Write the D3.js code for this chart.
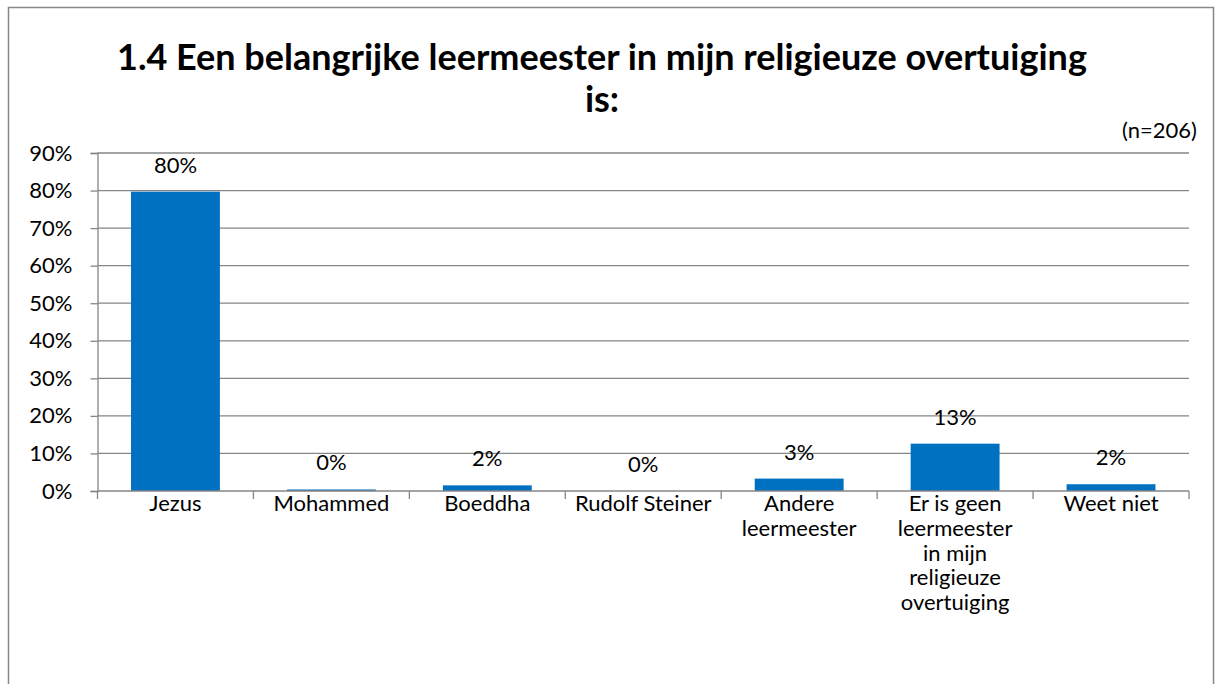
<!DOCTYPE html>
<html>
<head>
<meta charset="utf-8">
<script src="https://cdn.jsdelivr.net/npm/d3@7"></script>
<style>
  body { margin: 0; background: #fff; }
  svg text { font-family: Lato, "Open Sans", sans-serif; fill: #000; }
</style>
</head>
<body>
<svg id="chart" width="1215" height="684"></svg>
<script>
// data
var categories = ["Jezus", "Mohammed", "Boeddha", "Rudolf Steiner", "Andere leermeester",
                  "Er is geen leermeester in mijn religieuze overtuiging", "Weet niet"];
var categoryLines = [["Jezus"], ["Mohammed"], ["Boeddha"], ["Rudolf Steiner"], ["Andere", "leermeester"],
                     ["Er is geen", "leermeester", "in mijn", "religieuze", "overtuiging"], ["Weet niet"]];
var values = [79.7, 0.4, 1.5, 0, 3.3, 12.6, 1.8];
var valueLabels = ["80%", "0%", "2%", "0%", "3%", "13%", "2%"];
var yTicks = [0, 10, 20, 30, 40, 50, 60, 70, 80, 90];
var titleLines = ["1.4 Een belangrijke leermeester in mijn religieuze overtuiging", "is:"];
var note = "(n=206)";

var svg = d3.select("#chart");
var plotL = 97.5, plotR = 1189, plotT = 153, plotB = 491;
var fs = 22;

// outer frame
svg.append("rect").attr("x", 8.5).attr("y", 7.5).attr("width", 1205).attr("height", 700)
  .attr("fill", "none").attr("stroke", "#888").attr("stroke-width", 1.5);

var x = d3.scaleBand().domain(categories).range([plotL, plotR]).paddingInner(0.43).paddingOuter(0.215);
var xb = d3.scaleBand().domain(categories).range([plotL, plotR]);
var y = d3.scaleLinear().domain([0, 90]).range([plotB, plotT]);

// gridlines
svg.append("g").selectAll("line").data(yTicks.filter(function(d){ return d > 0; })).enter()
  .append("line")
  .attr("x1", plotL).attr("x2", plotR)
  .attr("y1", function(d){ return y(d); }).attr("y2", function(d){ return y(d); })
  .attr("stroke", "#868686").attr("stroke-width", 1.3);

// y axis
var yAxis = svg.append("g").attr("transform", "translate(" + plotL + ",0)")
  .call(d3.axisLeft(y).tickValues(yTicks).tickSize(7).tickPadding(18).tickFormat(function(d){ return d + "%"; }));
yAxis.select(".domain").attr("stroke", "#868686").attr("stroke-width", 1.3);
yAxis.selectAll(".tick line").attr("stroke", "#868686").attr("stroke-width", 1.3);
yAxis.selectAll("text").attr("font-size", fs).attr("font-family", "Lato").attr("fill", "#000");

// bars
svg.append("g").selectAll("rect").data(values).enter()
  .append("rect")
  .attr("x", function(d, i){ return x(categories[i]); })
  .attr("width", x.bandwidth())
  .attr("y", function(d){ return y(d); })
  .attr("height", function(d){ return plotB - y(d); })
  .attr("fill", "#0070C0");

// x axis line and ticks at category boundaries
svg.append("line").attr("x1", plotL).attr("x2", plotR).attr("y1", plotB).attr("y2", plotB)
  .attr("stroke", "#868686").attr("stroke-width", 1.3);
var bounds = categories.map(function(c){ return xb(c); }).concat([plotR]);
svg.append("g").selectAll("line").data(bounds).enter()
  .append("line")
  .attr("x1", function(d){ return d; }).attr("x2", function(d){ return d; })
  .attr("y1", plotB).attr("y2", plotB + 8)
  .attr("stroke", "#868686").attr("stroke-width", 1.3);

// value labels
svg.append("g").selectAll("text").data(values).enter()
  .append("text")
  .attr("x", function(d, i){ return x(categories[i]) + x.bandwidth() / 2; })
  .attr("y", function(d){ return y(d) - 19; })
  .attr("text-anchor", "middle").attr("font-size", fs)
  .text(function(d, i){ return valueLabels[i]; });

// category labels
var catG = svg.append("g").selectAll("text").data(categoryLines).enter()
  .append("text")
  .attr("x", function(d, i){ return xb(categories[i]) + xb.bandwidth() / 2; })
  .attr("y", plotB + 20)
  .attr("text-anchor", "middle").attr("font-size", fs);
catG.selectAll("tspan").data(function(d){ return d; }).enter()
  .append("tspan")
  .attr("x", function(){ return d3.select(this.parentNode).attr("x"); })
  .attr("dy", function(d, i){ return i === 0 ? 0 : 24.8; })
  .text(function(d){ return d; });

// title
svg.append("g").selectAll("text").data(titleLines).enter()
  .append("text")
  .attr("x", 602).attr("y", function(d, i){ return 70 + i * 42; })
  .attr("text-anchor", "middle").attr("font-size", 36).attr("font-weight", "bold")
  .text(function(d){ return d; });

svg.append("text").attr("x", 1197).attr("y", 138).attr("text-anchor", "end")
  .attr("font-size", fs).text(note);
</script>
</body>
</html>
